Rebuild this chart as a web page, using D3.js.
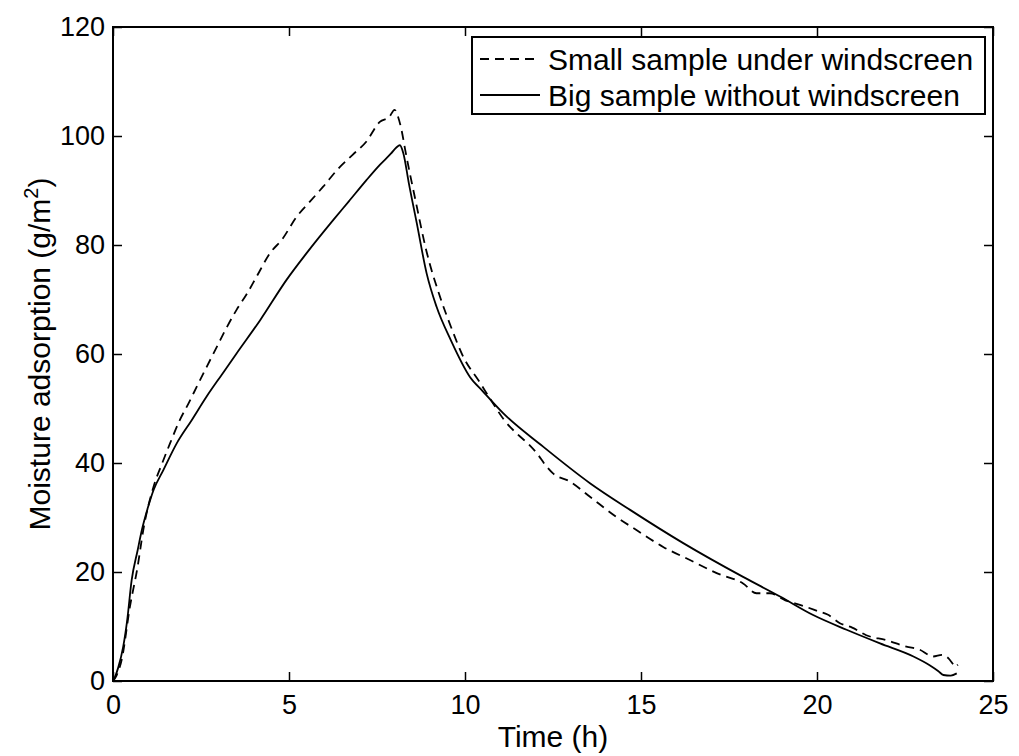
<!DOCTYPE html>
<html>
<head>
<meta charset="utf-8">
<script src="https://cdn.jsdelivr.net/npm/d3@7"></script>
<style>
  body { margin: 0; background: #fff; }
  text { font-family: "Liberation Sans", Arial, sans-serif; fill: #000; }
</style>
</head>
<body>
<script>
// Small sample under windscreen (dashed)
const smallTime = [0, 0.1, 0.25, 0.48, 0.7, 0.86, 1.15, 1.4, 1.62, 1.9, 2.15, 2.38, 2.65, 2.95, 3.2, 3.51, 3.8, 4.08, 4.46, 4.8, 5.22, 5.6, 5.97, 6.4, 6.8, 7.2, 7.58, 7.85, 8.0, 8.1, 8.2, 8.3, 8.6, 8.9, 9.29, 9.6, 9.95, 10.4, 10.8, 11.1, 11.47, 11.8, 12.04, 12.3, 12.5, 12.98, 13.55, 14.3, 14.87, 15.63, 16.39, 17.15, 17.9, 18.28, 18.66, 19.1, 19.6, 20.08, 20.3, 20.65, 21.0, 21.4, 21.97, 22.54, 22.9, 23.3, 23.55, 23.73, 23.85, 23.92, 24.0];
const smallValue = [0, 1, 4, 13.6, 21, 27.7, 35.6, 40, 43.6, 47.9, 51, 54, 57.5, 61.3, 64.5, 68.1, 71, 74.2, 78.5, 81, 85.2, 88, 90.7, 94, 96.5, 99, 102.6, 103.5, 104.8, 103.5, 101, 97.5, 88, 79, 70.5, 65, 59.5, 55, 50.9, 48, 45.4, 43.5, 41.8, 39.5, 38.1, 36.6, 33.8, 30.1, 27.7, 24.6, 22.2, 19.8, 17.9, 16.1, 16.1, 14.8, 13.8, 12.7, 12.2, 10.6, 9.8, 8.4, 7.5, 6.3, 5.8, 4.5, 4.8, 4.2, 3.2, 2.6, 3.0];

// Big sample without windscreen (solid)
const bigTime = [0, 0.06, 0.15, 0.29, 0.4, 0.53, 0.7, 0.82, 1.0, 1.15, 1.43, 1.81, 2.24, 2.66, 3.1, 3.51, 4.18, 4.93, 5.5, 6.26, 6.7, 7.2, 7.58, 7.9, 8.05, 8.15, 8.25, 8.4, 8.63, 8.91, 9.19, 9.6, 10.14, 10.5, 11.09, 12.22, 13.55, 14.69, 16.2, 17.9, 18.95, 19.89, 20.84, 21.79, 22.74, 23.2, 23.45, 23.59, 23.8, 23.97];
const bigValue = [0, 0.8, 2.5, 6.3, 11, 18.5, 24, 27.7, 32, 35, 38.7, 43.6, 47.9, 52.2, 56.3, 60.1, 66.2, 73.6, 78.5, 84.6, 88, 91.9, 94.7, 96.8, 97.9, 98.3, 96.8, 91.5, 84, 74.8, 68.7, 62.5, 55.8, 53.2, 49.1, 43, 36.3, 31.4, 25.3, 19.1, 15.5, 12.1, 9.4, 6.9, 4.5, 2.9, 1.8, 1.1, 1.0, 1.4];

const xTicks = [0, 5, 10, 15, 20, 25];
const yTicks = [0, 20, 40, 60, 80, 100, 120];
const legendLabels = ["Small sample under windscreen", "Big sample without windscreen"];

let margin = {top: 27, right: 26, bottom: 75, left: 113},
  width = 1019 - margin.left - margin.right,
  height = 756 - margin.top - margin.bottom;

const svg = d3.select("body")
  .append("svg")
  .attr("width", 1019)
  .attr("height", 756);

const g = svg.append("g")
  .attr("transform", "translate(" + margin.left + "," + margin.top + ")");

let x = d3.scaleLinear().domain([0, 25]).range([0, width]);
let y = d3.scaleLinear().domain([0, 120]).range([height, 0]);

const tickLen = 9;

// axes, matlab style: ticks pointing inward on all four sides
g.append("g")
  .attr("transform", "translate(0," + height + ")")
  .call(d3.axisBottom(x).tickValues(xTicks).tickSizeInner(-tickLen).tickSizeOuter(0).tickPadding(14))
  .call(a => a.selectAll("text").attr("font-size", 27).attr("dy", "0.71em"));

g.append("g")
  .call(d3.axisTop(x).tickValues(xTicks).tickSizeInner(-tickLen).tickSizeOuter(0).tickFormat(""));

g.append("g")
  .call(d3.axisLeft(y).tickValues(yTicks).tickSizeInner(-tickLen).tickSizeOuter(0).tickPadding(8))
  .call(a => a.selectAll("text").attr("font-size", 27));

g.append("g")
  .attr("transform", "translate(" + width + ",0)")
  .call(d3.axisRight(y).tickValues(yTicks).tickSizeInner(-tickLen).tickSizeOuter(0).tickFormat(""));

g.selectAll(".domain").remove();
g.selectAll(".tick line").attr("stroke", "#000").attr("stroke-width", 1.5);
g.selectAll(".tick text").attr("font-family", "Liberation Sans, Arial, sans-serif");

g.append("rect")
  .attr("width", width)
  .attr("height", height)
  .attr("fill", "none")
  .attr("stroke", "#000")
  .attr("stroke-width", 2);

const line = d3.line()
  .x(d => x(d[0]))
  .y(d => y(d[1]))
  .curve(d3.curveMonotoneX);

g.append("path")
  .datum(smallTime.map((t, i) => [t, smallValue[i]]))
  .attr("fill", "none")
  .attr("stroke", "#000")
  .attr("stroke-width", 1.8)
  .attr("stroke-dasharray", "9,6")
  .attr("d", line);

g.append("path")
  .datum(bigTime.map((t, i) => [t, bigValue[i]]))
  .attr("fill", "none")
  .attr("stroke", "#000")
  .attr("stroke-width", 1.8)
  .attr("d", line);

// legend
const leg = svg.append("g").attr("transform", "translate(472,37)");
leg.append("rect")
  .attr("width", 513)
  .attr("height", 77)
  .attr("fill", "#fff")
  .attr("stroke", "#000")
  .attr("stroke-width", 2);

legendLabels.forEach((lab, i) => {
  const cy = 22 + i * 36;
  leg.append("line")
    .attr("x1", 8).attr("x2", 68)
    .attr("y1", cy).attr("y2", cy)
    .attr("stroke", "#000")
    .attr("stroke-width", 1.8)
    .attr("stroke-dasharray", i === 0 ? "9,6" : null);
  leg.append("text")
    .attr("x", 76)
    .attr("y", cy)
    .attr("dy", "0.36em")
    .attr("font-size", 30)
    .text(lab);
});

// axis titles
svg.append("text")
  .attr("x", margin.left + width / 2)
  .attr("y", 747)
  .attr("text-anchor", "middle")
  .attr("font-size", 30)
  .text("Time (h)");

const yl = svg.append("text")
  .attr("transform", "translate(50," + (margin.top + height / 2) + ") rotate(-90)")
  .attr("text-anchor", "middle")
  .attr("font-size", 30);
yl.append("tspan").text("Moisture adsorption (g/m");
yl.append("tspan").attr("font-size", 20).attr("dy", -12).text("2");
yl.append("tspan").attr("dy", 12).text(")");
</script>
</body>
</html>
